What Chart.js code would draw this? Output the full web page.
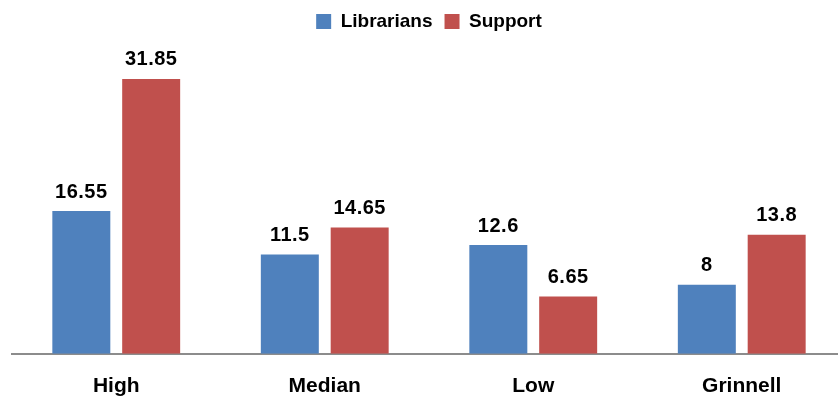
<!DOCTYPE html>
<html>
<head>
<meta charset="utf-8">
<script src="https://cdn.jsdelivr.net/npm/chart.js@4"></script>
<style>
  html, body { margin: 0; padding: 0; background: #fff; overflow: hidden; }
  /* plot runs slightly past the right/bottom edge, as in the original */
  #wrap { width: 846px; height: 419px; }
</style>
</head>
<body>
<div id="wrap"><canvas id="staffChart"></canvas></div>
<script>
  // Data
  const categories = ['High', 'Median', 'Low', 'Grinnell'];
  const librarians = [16.55, 11.5, 12.6, 8];
  const support = [31.85, 14.65, 6.65, 13.8];

  const FONT = 'Liberation Sans';

  // draw the value above each bar
  const valueLabels = {
    id: 'valueLabels',
    afterDatasetsDraw(chart) {
      const ctx = chart.ctx;
      ctx.save();
      ctx.font = 'bold 20px ' + FONT;
      ctx.letterSpacing = '0.5px';
      ctx.fillStyle = '#000';
      ctx.textAlign = 'center';
      ctx.textBaseline = 'bottom';
      chart.data.datasets.forEach((ds, i) => {
        chart.getDatasetMeta(i).data.forEach((bar, j) => {
          ctx.fillText(String(ds.data[j]), bar.x, bar.y - 9);
        });
      });
      ctx.restore();
    }
  };

  const ctx = document.getElementById('staffChart').getContext('2d');

  new Chart(ctx, {
    type: 'bar',
    data: {
      labels: categories,
      datasets: [
        {
          label: 'Librarians',
          data: librarians,
          backgroundColor: '#4F81BD'
        },
        {
          label: 'Support',
          data: support,
          backgroundColor: '#C0504D'
        }
      ]
    },
    options: {
      responsive: true,
      maintainAspectRatio: false,
      animation: false,
      categoryPercentage: 0.67,
      barPercentage: 0.83,
      layout: { padding: { left: 12, right: 0, top: 0, bottom: 0 } },
      plugins: {
        legend: {
          position: 'top',
          labels: {
            font: { family: FONT, size: 19, weight: 'bold' },
            color: '#000',
            boxWidth: 15,
            boxHeight: 15,
            padding: 12
          }
        },
        tooltip: { enabled: false }
      },
      scales: {
        y: {
          display: false,
          min: 0,
          max: 36.25
        },
        x: {
          grid: { display: false, drawTicks: false },
          border: { color: '#8c8c8c', width: 2 },
          ticks: {
            font: { family: FONT, size: 21, weight: 'bold' },
            color: '#000',
            padding: 20
          }
        }
      }
    },
    plugins: [valueLabels]
  });
</script>
</body>
</html>
